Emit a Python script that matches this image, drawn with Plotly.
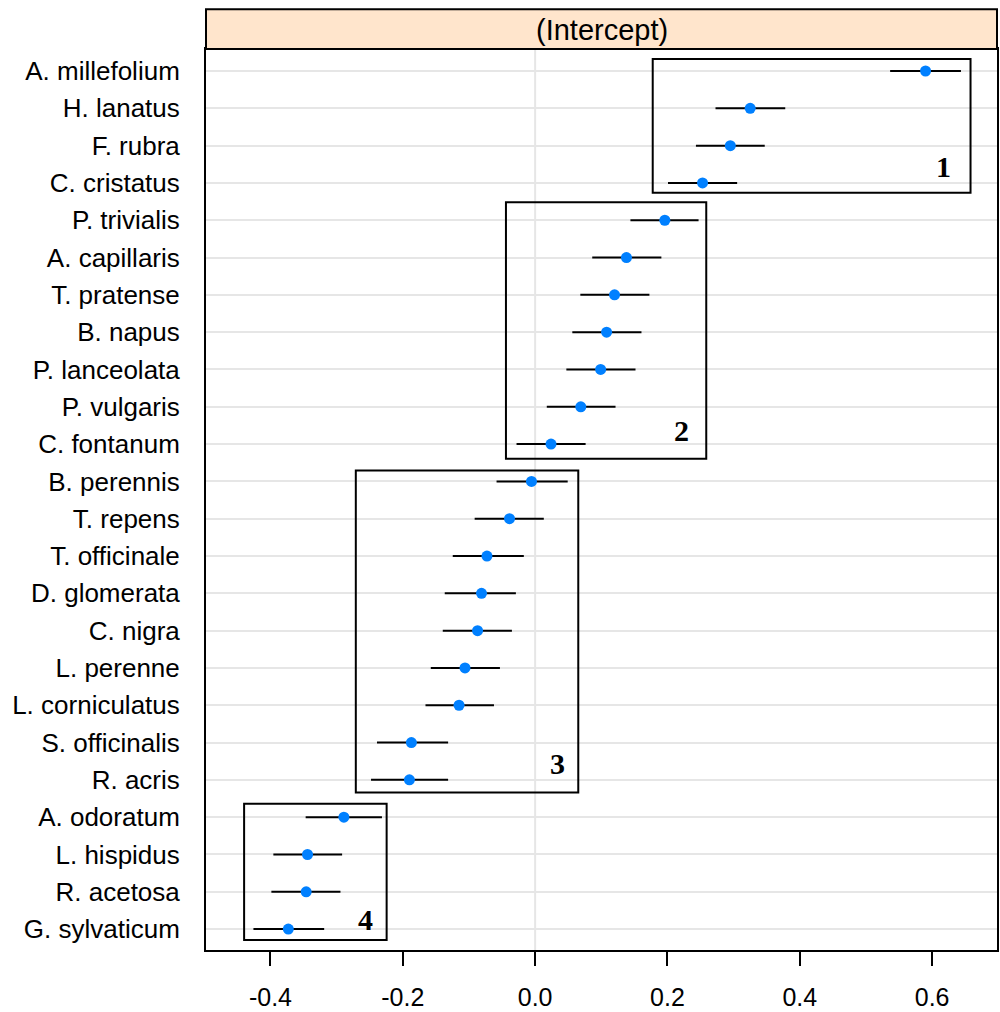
import plotly.graph_objects as go

# Species listed top to bottom
species = ["A. millefolium", "H. lanatus", "F. rubra", "C. cristatus",
           "P. trivialis", "A. capillaris", "T. pratense", "B. napus",
           "P. lanceolata", "P. vulgaris", "C. fontanum",
           "B. perennis", "T. repens", "T. officinale", "D. glomerata",
           "C. nigra", "L. perenne", "L. corniculatus", "S. officinalis", "R. acris",
           "A. odoratum", "L. hispidus", "R. acetosa", "G. sylvaticum"]
estimate = [0.590, 0.325, 0.295, 0.253,
            0.196, 0.138, 0.120, 0.108, 0.099, 0.069, 0.024,
            -0.0055, -0.0387, -0.0728, -0.081, -0.087, -0.106, -0.115, -0.187, -0.190,
            -0.289, -0.344, -0.346, -0.373]
lower = [0.5365, 0.2726, 0.243, 0.2008,
         0.144, 0.0863, 0.0683, 0.0562, 0.0472, 0.0176, -0.0281,
         -0.0583, -0.0914, -0.1245, -0.1366, -0.1396, -0.1577, -0.1657, -0.239, -0.248,
         -0.3468, -0.3956, -0.3986, -0.4257]
upper = [0.6435, 0.378, 0.347, 0.3053,
         0.247, 0.1908, 0.1727, 0.1607, 0.1517, 0.1215, 0.0763,
         0.0492, 0.0131, -0.0171, -0.0291, -0.0351, -0.0532, -0.0622, -0.1315, -0.1315,
         -0.2315, -0.2917, -0.2942, -0.3188]

# Group boxes (data units: x0, x1, y0, y1 on category index, bottom row = 0) and labels
group_labels = ["1", "2", "3", "4"]
box_x0 = [0.1777, -0.0441, -0.271, -0.4398]
box_x1 = [0.658, 0.2586, 0.0652, -0.2244]
box_y0 = [19.74, 12.61, 3.66, -0.29]
box_y1 = [23.32, 19.48, 12.29, 3.36]
label_x = [0.6175, 0.221, 0.0336, -0.256]
label_y = [20.44, 13.36, 4.43, 0.26]

strip_title = "(Intercept)"
x_ticks = [-0.4, -0.2, 0.0, 0.2, 0.4, 0.6]

err_plus = [u - e for u, e in zip(upper, estimate)]
err_minus = [e - l for e, l in zip(estimate, lower)]

fig = go.Figure()
fig.add_trace(go.Scatter(
    x=estimate, y=species, mode="markers",
    marker=dict(color="#0080ff", size=11, symbol="circle", line=dict(width=0)),
    error_x=dict(type="data", symmetric=False, array=err_plus, arrayminus=err_minus,
                 color="black", thickness=2, width=0),
    showlegend=False, hoverinfo="x+y",
))

shapes = []
# vertical reference line at zero
shapes.append(dict(type="line", xref="x", yref="paper", x0=0, x1=0, y0=0, y1=1,
                   line=dict(color="#e6e6e6", width=2), layer="below"))
for i in range(len(group_labels)):
    shapes.append(dict(type="rect", xref="x", yref="y",
                       x0=box_x0[i], x1=box_x1[i], y0=box_y0[i], y1=box_y1[i],
                       line=dict(color="black", width=2), fillcolor="rgba(0,0,0,0)"))
# strip
shapes.append(dict(type="rect", xref="paper", yref="paper", x0=0, x1=1, y0=1.0, y1=1.0 + 40 / 904,
                   line=dict(color="black", width=2), fillcolor="#ffe5cc"))

annotations = []
for i in range(len(group_labels)):
    annotations.append(dict(x=label_x[i], y=label_y[i], xref="x", yref="y",
                            text="<b>" + group_labels[i] + "</b>", showarrow=False,
                            xanchor="center", yanchor="middle",
                            font=dict(family="Liberation Serif", size=30, color="black")))
annotations.append(dict(x=0.5, y=1.0 + 19 / 904, xref="paper", yref="paper",
                        text=strip_title, showarrow=False,
                        xanchor="center", yanchor="middle",
                        font=dict(family="Liberation Sans, Arial", size=29, color="black")))

fig.update_layout(
    width=1000, height=1012,
    margin=dict(l=206, r=1, t=49, b=59),
    paper_bgcolor="white", plot_bgcolor="white",
    shapes=shapes, annotations=annotations,
    font=dict(family="Liberation Sans, Arial", size=25, color="black"),
)
fig.update_xaxes(
    range=[-0.4974, 0.698], tickvals=x_ticks,
    ticktext=["%.1f" % v for v in x_ticks],
    ticks="outside", ticklen=14, tickwidth=2, tickcolor="black",
    ticklabelstandoff=10,
    showgrid=False, zeroline=False,
    showline=True, linecolor="black", linewidth=2, mirror=True,
    tickfont=dict(size=25),
)
fig.update_yaxes(
    type="category", categoryorder="array", categoryarray=list(reversed(species)),
    range=[-0.56, 23.59],
    ticks="outside", ticklen=19, tickcolor="rgba(0,0,0,0)",
    showgrid=True, gridcolor="#e6e6e6", gridwidth=2, zeroline=False,
    showline=True, linecolor="black", linewidth=2, mirror=True,
    tickfont=dict(size=26),
)

fig.write_html("out.html")
